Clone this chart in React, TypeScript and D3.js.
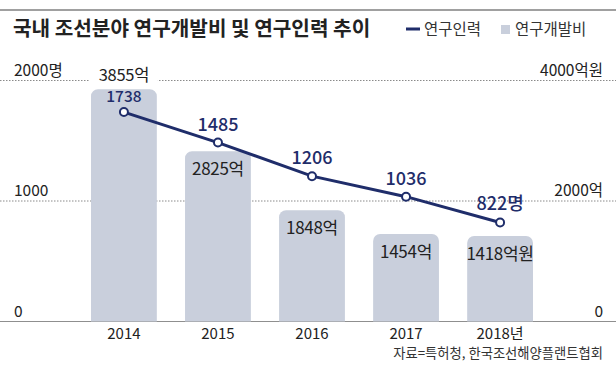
import * as React from 'react';
import * as d3 from 'd3';

const years = ['2014', '2015', '2016', '2017', '2018'];
const yearLabels = ['2014', '2015', '2016', '2017', '2018년'];
const rndCost = [3855, 2825, 1848, 1454, 1418]; // 억원
const rndCostLabels = ['3855억', '2825억', '1848억', '1454억', '1418억원'];
const researchers = [1738, 1485, 1206, 1036, 822]; // 명
const researcherLabels = ['1738', '1485', '1206', '1036', '822명'];
const leftTicks = [0, 1000, 2000];
const leftTickLabels = ['0', '1000', '2000명'];
const rightTicks = [0, 2000, 4000];
const rightTickLabels = ['0', '2000억', '4000억원'];

const W = 616;
const H = 371;
const FONT = '"Noto Sans CJK KR", "Noto Sans", sans-serif';
const NAVY = '#1f2d6a';
const BAR = '#c9cfdc';

export default function App() {
  const ref = React.useRef<SVGSVGElement>(null);

  React.useEffect(() => {
    const svg = d3.select(ref.current);
    svg.selectAll('*').remove();

    const x = d3.scaleBand().domain(years).range([91, 533]).paddingInner(0.3).paddingOuter(0);
    const yL = d3.scaleLinear().domain([0, 2000]).range([321.5, 80.5]);
    const yR = d3.scaleLinear().domain([0, 4000]).range([321.5, 80.5]);
    const cx = (d: string) => (x(d) as number) + x.bandwidth() / 2;

    // top rule
    svg.append('rect').attr('x', 0).attr('y', 9).attr('width', W).attr('height', 2).attr('fill', '#a0a0a0');

    // title
    svg.append('text')
      .attr('x', 13).attr('y', 36)
      .attr('font-size', 20.2).attr('font-weight', 700).attr('fill', '#222')
      .text('국내 조선분야 연구개발비 및 연구인력 추이');

    // legend
    svg.append('rect').attr('x', 406).attr('y', 27.5).attr('width', 14).attr('height', 3).attr('fill', NAVY);
    svg.append('text').attr('x', 424).attr('y', 35).attr('font-size', 15.5).attr('fill', '#333').text('연구인력');
    svg.append('rect').attr('x', 501).attr('y', 25).attr('width', 9).attr('height', 9).attr('fill', BAR);
    svg.append('text').attr('x', 515).attr('y', 35).attr('font-size', 15.5).attr('fill', '#333').text('연구개발비');

    // gridlines
    leftTicks.filter(t => t > 0).forEach(t => {
      svg.append('line')
        .attr('x1', 0).attr('x2', W).attr('y1', yL(t)).attr('y2', yL(t))
        .attr('stroke', '#8a8a8a').attr('stroke-width', 1).attr('stroke-dasharray', '1.5,1.5');
    });
    svg.append('line')
      .attr('x1', 0).attr('x2', W).attr('y1', yL(0)).attr('y2', yL(0))
      .attr('stroke', '#8f8f8f').attr('stroke-width', 1.2);

    // axis labels
    leftTicks.forEach((t, i) => {
      svg.append('text').attr('x', 14).attr('y', yL(t) - 5)
        .attr('font-size', 15.5).attr('fill', '#222').text(leftTickLabels[i]);
    });
    rightTicks.forEach((t, i) => {
      svg.append('text').attr('x', 603).attr('y', yR(t) - 5).attr('text-anchor', 'end')
        .attr('font-size', 15.5).attr('fill', '#222').text(rightTickLabels[i]);
    });

    // bars (rounded top corners)
    const r = 7;
    years.forEach((yr, i) => {
      const x0 = x(yr) as number;
      const x1 = x0 + x.bandwidth();
      const top = yR(rndCost[i]);
      const base = yR(0);
      const p = d3.path();
      p.moveTo(x0, base);
      p.lineTo(x0, top + r);
      p.arcTo(x0, top, x0 + r, top, r);
      p.lineTo(x1 - r, top);
      p.arcTo(x1, top, x1, top + r, r);
      p.lineTo(x1, base);
      p.closePath();
      svg.append('path').attr('d', p.toString()).attr('fill', BAR);
    });

    // bar labels
    years.forEach((yr, i) => {
      const top = yR(rndCost[i]);
      if (i === 0) {
        svg.append('rect').attr('x', (x(yr) as number) - 1).attr('y', top - 18)
          .attr('width', x.bandwidth() + 2).attr('height', 14).attr('fill', '#fff');
        svg.append('text').attr('x', cx(yr)).attr('y', top - 8).attr('text-anchor', 'middle')
          .attr('font-size', 16.5).attr('fill', '#222').attr('letter-spacing', -0.3).text(rndCostLabels[i]);
      } else {
        svg.append('text').attr('x', cx(yr)).attr('y', top + 24).attr('text-anchor', 'middle')
          .attr('font-size', 17).attr('fill', '#222').attr('letter-spacing', -0.3).text(rndCostLabels[i]);
      }
    });

    // line
    const line = d3.line<number>().x((_, i) => cx(years[i])).y(d => yL(d));
    svg.append('path').datum(researchers).attr('d', line)
      .attr('fill', 'none').attr('stroke', NAVY).attr('stroke-width', 3);
    svg.selectAll('circle.pt').data(researchers).enter().append('circle')
      .attr('cx', (_, i) => cx(years[i])).attr('cy', d => yL(d)).attr('r', 4)
      .attr('fill', '#fff').attr('stroke', NAVY).attr('stroke-width', 2);
    researchers.forEach((v, i) => {
      svg.append('text').attr('x', cx(years[i])).attr('y', yL(v) - (i === 0 ? 10.5 : 12)).attr('text-anchor', 'middle')
        .attr('font-size', i === 0 ? 15.5 : 18).attr('font-weight', 500).attr('fill', NAVY).text(researcherLabels[i]);
    });

    // x labels
    years.forEach((yr, i) => {
      svg.append('text').attr('x', cx(yr)).attr('y', 339).attr('text-anchor', 'middle')
        .attr('font-size', 15).attr('fill', '#222').text(yearLabels[i]);
    });

    // source
    svg.append('text').attr('x', 603).attr('y', 358).attr('text-anchor', 'end')
      .attr('font-size', 13.3).attr('fill', '#333').text('자료=특허청, 한국조선해양플랜트협회');
  }, []);

  return (
    <svg ref={ref} width={W} height={H} style={{ position: 'absolute', left: 0, top: 0, fontFamily: FONT, background: '#fff' }} />
  );
}
